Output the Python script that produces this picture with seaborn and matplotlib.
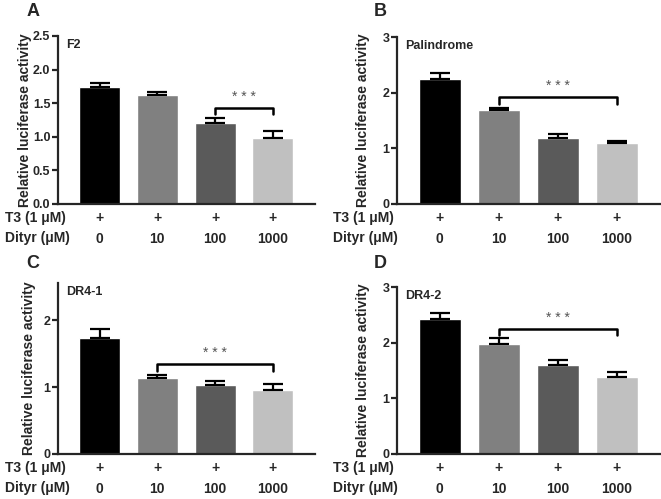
import pandas as pd
import matplotlib.pyplot as plt
import seaborn as sns

sns.set_style("ticks")
plt.rcParams["font.family"] = ["Liberation Sans", "DejaVu Sans"]
plt.rcParams["font.weight"] = "bold"

# data
doses = ["0", "10", "100", "1000"]
bar_colors = ["#000000", "#808080", "#5a5a5a", "#c0c0c0"]

f2_mean = [1.74, 1.62, 1.20, 0.98]
f2_err = [0.06, 0.05, 0.08, 0.10]
pal_mean = [2.25, 1.68, 1.18, 1.09]
pal_err = [0.10, 0.05, 0.08, 0.04]
dr41_mean = [1.73, 1.14, 1.03, 0.96]
dr41_err = [0.14, 0.05, 0.07, 0.09]
dr42_mean = [2.42, 1.97, 1.59, 1.38]
dr42_err = [0.11, 0.11, 0.10, 0.09]

panels = [
    # letter, name, means, errs, ymax, yticks, tick fmt, bracket (from, to, height, drop)
    ("A", "F2", f2_mean, f2_err, 2.5, [0, 0.5, 1.0, 1.5, 2.0, 2.5], "{:.1f}", (2, 3, 1.43, 0.09)),
    ("B", "Palindrome", pal_mean, pal_err, 3, [0, 1, 2, 3], "{:.0f}", (1, 3, 1.92, 0.12)),
    ("C", "DR4-1", dr41_mean, dr41_err, 2.56, [0, 1, 2], "{:.0f}", (1, 3, 1.34, 0.09)),
    ("D", "DR4-2", dr42_mean, dr42_err, 3, [0, 1, 2, 3], "{:.0f}", (1, 3, 2.25, 0.12)),
]

# axes boxes in figure pixels: left, top, right, bottom
boxes = [(58, 36, 315, 204), (397, 37, 660, 204), (58, 283, 315, 454), (397, 287, 660, 454)]
ylabel_offset = [26, 27, 22, 27]   # px left of the spine
row_label_x = [5, 333, 5, 333]
letter_pos = [(33, 11), (380, 11), (33, 263), (380, 263)]

W, H = 661, 499
fig = plt.figure(figsize=(W / 100, H / 100), dpi=100)

for p, (letter, name, means, errs, ymax, yticks, fmt, br) in enumerate(panels):
    l, t, r, b = boxes[p]
    ax = fig.add_axes([l / W, (H - b) / H, (r - l) / W, (b - t) / H])
    df = pd.DataFrame({"dose": doses, "value": means})
    sns.barplot(data=df, x="dose", y="value", hue="dose", palette=bar_colors,
                order=doses, hue_order=doses, legend=False, width=0.71,
                errorbar=None, saturation=1, ax=ax)
    ax.errorbar(range(len(doses)), means, yerr=[[0] * len(errs), errs], fmt="none",
                ecolor="black", elinewidth=1.6, capsize=7, capthick=1.6)

    ax.set_xlim(-0.72, 3.73)
    ax.set_ylim(0, ymax)
    ax.set_yticks(yticks)
    ax.set_yticklabels([fmt.format(v) for v in yticks], fontsize=9, fontweight="bold")
    ax.set_xticks([])
    ax.set_xlabel("")
    ax.set_ylabel("Relative luciferase activity", fontsize=10, fontweight="bold")
    ax.yaxis.set_label_coords(-ylabel_offset[p] / (r - l), 0.5)
    sns.despine(ax=ax)
    for s in ["left", "bottom"]:
        ax.spines[s].set_linewidth(1.6)
    ax.tick_params(axis="y", width=1.6, length=4, pad=1.5)

    ax.text(0.03, 0.985, name, transform=ax.transAxes, ha="left", va="top",
            fontsize=9, fontweight="bold")

    # significance bracket
    i, j, h, d = br
    ax.plot([i, i, j, j], [h - d, h, h, h - d], color="black", lw=1.8, clip_on=False)
    ax.annotate("* * *", xy=((i + j) / 2, h), xytext=(0, 3), textcoords="offset points",
                ha="center", va="bottom", fontsize=10, color="#555555", fontweight="normal")

    # treatment rows under the axis
    for k, dose in enumerate(doses):
        ax.annotate("+", xy=(k, 0), xycoords=("data", "axes fraction"), xytext=(0, -10),
                    textcoords="offset points", ha="center", va="center", fontsize=10, fontweight="bold")
        ax.annotate(dose, xy=(k, 0), xycoords=("data", "axes fraction"), xytext=(0, -25),
                    textcoords="offset points", ha="center", va="center", fontsize=10, fontweight="bold")
    fig.text(row_label_x[p] / W, (H - b - 14) / H, "T3 (1 μM)", ha="left", va="center",
             fontsize=10, fontweight="bold")
    fig.text(row_label_x[p] / W, (H - b - 34) / H, "Dityr (μM)", ha="left", va="center",
             fontsize=10, fontweight="bold")

    lx, ly = letter_pos[p]
    fig.text(lx / W, (H - ly) / H, letter, ha="center", va="center", fontsize=13, fontweight="bold")

fig.savefig("out.png", dpi=100)
